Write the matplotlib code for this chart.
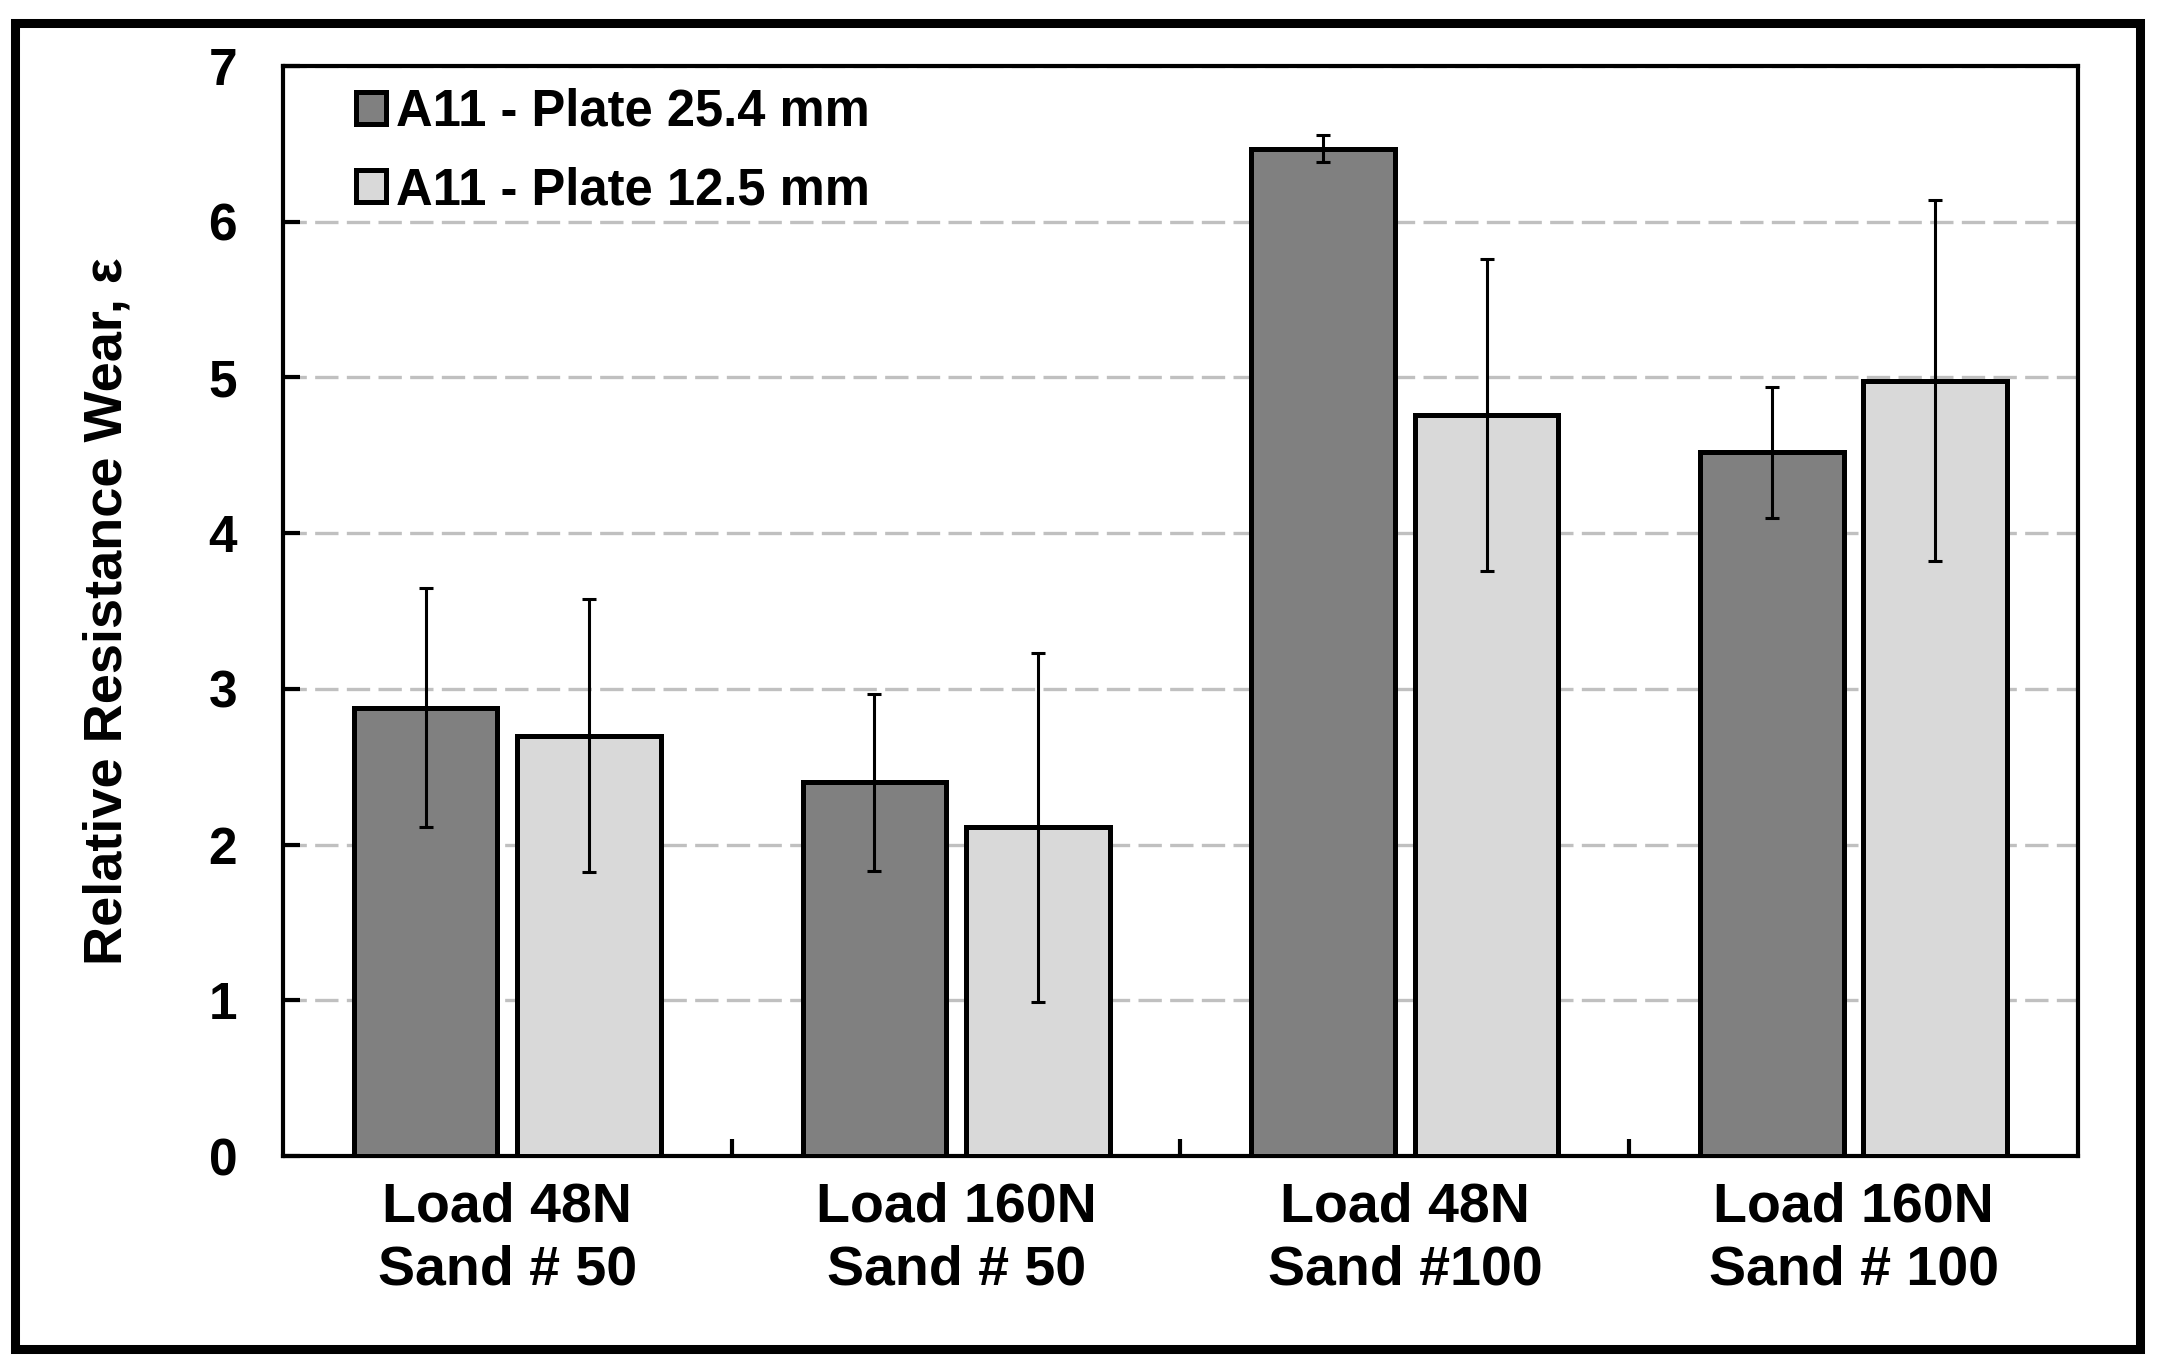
import numpy as np
import matplotlib
matplotlib.use('Agg')
from matplotlib import pyplot as plt
from matplotlib.patches import Rectangle

plt.rcParams['font.family'] = ['Liberation Sans', 'DejaVu Sans']
plt.rcParams['font.weight'] = 'bold'

# data
groups = ['Load 48N\nSand # 50', 'Load 160N\nSand # 50', 'Load 48N\nSand #100', 'Load 160N\nSand # 100']
series = ['A11 - Plate 25.4 mm', 'A11 - Plate 12.5 mm']
plate_254 = [2.88, 2.40, 6.47, 4.52]
plate_254_err = [0.77, 0.57, 0.085, 0.42]
plate_125 = [2.70, 2.11, 4.76, 4.98]
plate_125_err = [0.875, 1.12, 1.0, 1.16]
colors = ['#808080', '#d9d9d9']

fig = plt.figure(figsize=(21.65, 13.72), dpi=100)
ax = fig.add_axes([0.1307, 0.1574, 0.8291, 0.7945])

x = np.arange(len(groups))
width = 0.32
offset = 0.182
err_kw = dict(ecolor='black', elinewidth=2.2, capsize=4.7, capthick=2.2)
ax.bar(x - offset, plate_254, width, yerr=plate_254_err, color=colors[0],
       edgecolor='black', linewidth=3.6, label=series[0], error_kw=err_kw, zorder=3)
ax.bar(x + offset, plate_125, width, yerr=plate_125_err, color=colors[1],
       edgecolor='black', linewidth=3.6, label=series[1], error_kw=err_kw, zorder=3)

ax.set_xlim(-0.5, len(groups) - 0.5)
ax.set_ylim(0, 7)
ax.set_yticks(range(0, 8))
ax.set_yticklabels([str(v) for v in range(0, 8)], fontsize=37, fontweight='bold')
ax.yaxis.grid(True, linestyle=(0, (7, 2.5)), color='#c0c0c0', linewidth=2.4, zorder=0)
ax.set_axisbelow(True)

# group labels centred, tick marks between groups
ax.set_xticks(x)
ax.set_xticklabels(groups, fontsize=40, fontweight='bold', linespacing=1.28)
ax.tick_params(axis='x', which='major', length=0, pad=18)
ax.set_xticks(x[:-1] + 0.5, minor=True)
ax.tick_params(axis='x', which='minor', direction='in', length=12, width=3)
ax.tick_params(axis='y', direction='in', length=12, width=3, pad=33)

for s in ax.spines.values():
    s.set_linewidth(3)

ax.set_ylabel('Relative Resistance Wear, ε', fontsize=39, fontweight='bold')
ax.yaxis.set_label_coords(-0.084, 0.5)

ax.legend(loc='upper left', bbox_to_anchor=(0.0407, 0.98), frameon=False,
          prop={'size': 36.5, 'weight': 'bold'}, handlelength=0.6, handleheight=0.6,
          handletextpad=0.18, labelspacing=0.58, borderpad=0, borderaxespad=0)

# outer frame around the whole figure
fig.patches.append(Rectangle((0.0067, 0.0168), 0.9818, 0.9668, transform=fig.transFigure,
                             fill=False, edgecolor='black', linewidth=6.5))

fig.savefig('out.png', dpi=100)
